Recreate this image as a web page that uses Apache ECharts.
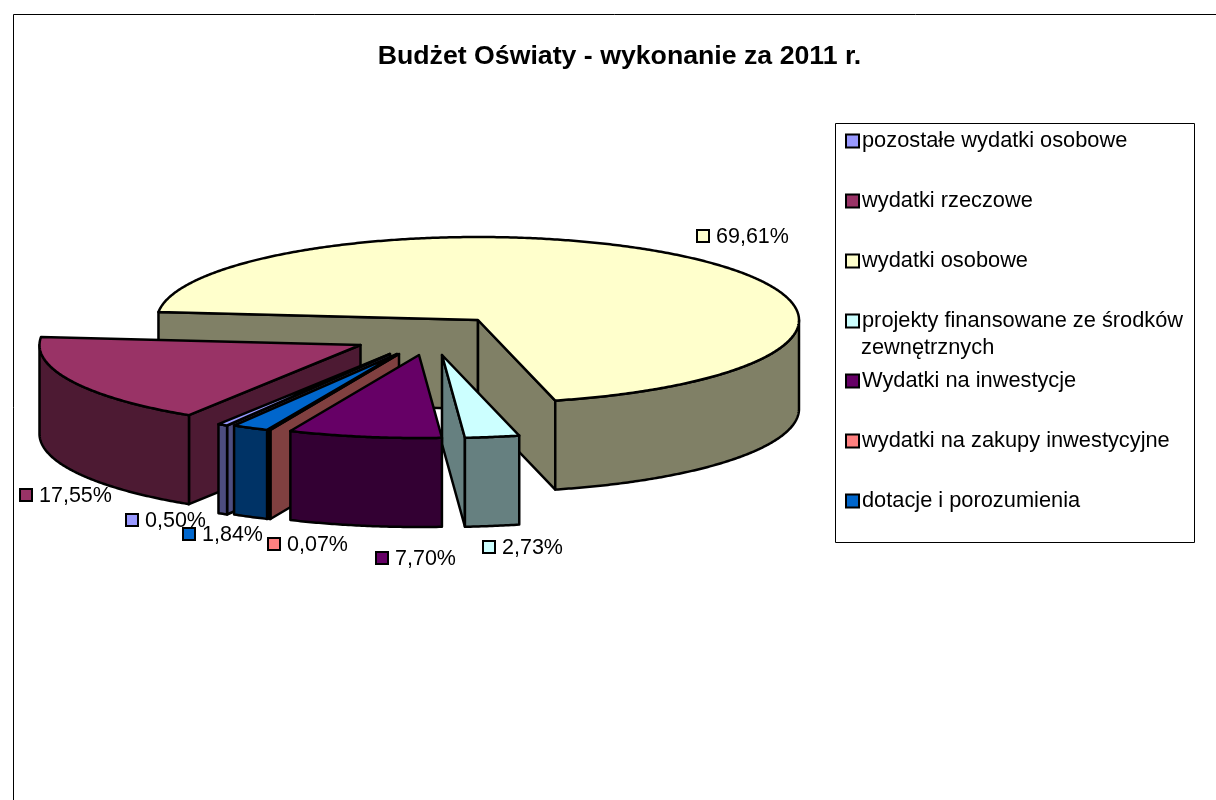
<!DOCTYPE html>
<html>
<head>
    <meta charset="utf-8" />
    <style>
        html, body { margin: 0; padding: 0; background: #fff; }
        #chart { width: 1216px; height: 800px; }
    </style>
    <script src="https://cdn.jsdelivr.net/npm/echarts@6/dist/echarts.min.js"></script>
</head>
<body>
    <div id="chart"></div>
    <script type="text/javascript">
        // dane
        var categories = [
            'pozostałe wydatki osobowe',
            'wydatki rzeczowe',
            'wydatki osobowe',
            'projekty finansowane ze środków\nzewnętrznych',
            'Wydatki na inwestycje',
            'wydatki na zakupy inwestycyjne',
            'dotacje i porozumienia'
        ];
        var shares = [0.50, 17.55, 69.61, 2.73, 7.70, 0.07, 1.84];

        // kolory: wierzch i bok kazdego wycinka
        var topColors = ['#9999FF', '#993366', '#FFFFCC', '#CCFFFF', '#660066', '#FF8080', '#0066CC'];
        var sideColors = ['#4D4D80', '#4D1A33', '#808066', '#668080', '#330033', '#804040', '#003366'];

        // geometria kola 3D
        var centerX = 478, centerY = 320;
        var radiusX = 321, radiusY = 83, depth = 89;
        var firstAngle = 120.5;
        var explode = [[-88, 34], [-117.5, 25], [0, 0], [-36, 35], [-59, 35], [-79, 34], [-81, 34]];
        var drawOrder = [2, 3, 1, 0, 6, 5, 4];

        // polozenie etykiet: lewy gorny rog kwadracika
        var labelPos = [[125, 513], [19, 488], [696, 229], [482, 540], [375, 551], [267, 537], [182, 527]];

        var fontName = '"Liberation Sans", Arial, sans-serif';

        function sliceStart(idx) {
            var sum = 0;
            for (var i = 0; i < idx; i++) {
                sum += shares[i];
            }
            return firstAngle + sum * 3.6;
        }

        function rimPoint(cx, cy, deg, drop) {
            var a = deg * Math.PI / 180;
            return [cx + radiusX * Math.cos(a), cy + radiusY * Math.sin(a) + drop];
        }

        function arcPoints(cx, cy, from, to, drop) {
            var pts = [];
            var steps = Math.max(1, Math.ceil((to - from) * 2));
            for (var i = 0; i <= steps; i++) {
                pts.push(rimPoint(cx, cy, from + (to - from) * i / steps, drop));
            }
            return pts;
        }

        function face(points, color) {
            return {
                type: 'polygon',
                shape: { points: points },
                style: { fill: color, stroke: '#000', lineWidth: 2.5, lineJoin: 'round' }
            };
        }

        function radialFace(cx, cy, deg, color) {
            return face([
                [cx, cy],
                rimPoint(cx, cy, deg, 0),
                rimPoint(cx, cy, deg, depth),
                [cx, cy + depth]
            ], color);
        }

        // czesc boku lezaca z przodu (sinus dodatni)
        function frontFaces(cx, cy, from, to, color) {
            var out = [];
            for (var k = 0; k <= 2; k += 2) {
                var lo = Math.max(from, k * 180);
                var hi = Math.min(to, k * 180 + 180);
                if (hi > lo) {
                    var upper = arcPoints(cx, cy, lo, hi, 0);
                    var lower = arcPoints(cx, cy, lo, hi, depth).reverse();
                    out.push(face(upper.concat(lower), color));
                }
            }
            return out;
        }

        function renderSlice(idx, params, api) {
            var value = api.value(0);
            var from = sliceStart(idx);
            var to = from + value * 3.6;
            var cx = centerX + explode[idx][0];
            var cy = centerY + explode[idx][1];

            // tylko sciany zwrocone do widza
            var children = [];
            if (Math.cos(from * Math.PI / 180) < 0) {
                children.push(radialFace(cx, cy, from, sideColors[idx]));
            }
            if (Math.cos(to * Math.PI / 180) > 0) {
                children.push(radialFace(cx, cy, to, sideColors[idx]));
            }
            children = children.concat(frontFaces(cx, cy, from, to, sideColors[idx]));
            children.push(face([[cx, cy]].concat(arcPoints(cx, cy, from, to, 0)), topColors[idx]));

            // etykieta z kwadracikiem
            var lx = labelPos[idx][0], ly = labelPos[idx][1];
            children.push({
                type: 'rect',
                z2: 10,
                shape: { x: lx + 1, y: ly + 1, width: 12, height: 12 },
                style: { fill: topColors[idx], stroke: '#000', lineWidth: 2 }
            });
            children.push({
                type: 'text',
                z2: 9,
                x: lx + 20,
                y: ly + 8,
                style: {
                    text: value.toFixed(2).replace('.', ',') + '%',
                    fill: '#000',
                    font: '21.5px ' + fontName,
                    textVerticalAlign: 'middle'
                }
            });
            return { type: 'group', children: children };
        }

        var series = drawOrder.map(function (idx) {
            return {
                type: 'custom',
                name: categories[idx],
                coordinateSystem: 'none',
                silent: true,
                itemStyle: { color: topColors[idx] },
                data: [[shares[idx]]],
                renderItem: function (params, api) {
                    return renderSlice(idx, params, api);
                }
            };
        });

        var option = {
            animation: false,
            backgroundColor: '#fff',
            title: {
                text: 'Budżet Oświaty - wykonanie za 2011 r.',
                left: 614.5,
                top: 38,
                textAlign: 'center',
                textStyle: { fontFamily: fontName, fontWeight: 'bold', fontSize: 26.7, color: '#000' }
            },
            legend: {
                orient: 'vertical',
                left: 845,
                top: 126,
                itemWidth: 13,
                itemHeight: 13,
                itemGap: 30,
                selectedMode: false,
                icon: 'rect',
                padding: 0,
                data: categories.map(function (name, i) {
                    return {
                        name: name,
                        itemStyle: { color: topColors[i], borderColor: '#000', borderWidth: 2 }
                    };
                }),
                formatter: function (name) {
                    return name.split('\n')[0];
                },
                textStyle: {
                    fontFamily: fontName,
                    fontSize: 21.8,
                    color: '#000',
                    lineHeight: 26,
                    padding: [4, 0, 0, -2]
                }
            },
            graphic: [
                {
                    type: 'polyline',
                    shape: { points: [[13.5, 800], [13.5, 14.5], [1216, 14.5]] },
                    style: { fill: null, stroke: '#000', lineWidth: 1 }
                },
                {
                    type: 'rect',
                    shape: { x: 835.5, y: 123.5, width: 359, height: 419 },
                    style: { fill: null, stroke: '#000', lineWidth: 1 }
                },
                {
                    type: 'text',
                    x: 861,
                    y: 348,
                    style: {
                        text: categories[3].split('\n')[1],
                        fill: '#000',
                        font: '21.8px ' + fontName,
                        textVerticalAlign: 'middle'
                    }
                }
            ],
            series: series
        };

        var myChart = echarts.init(document.getElementById('chart'));
        myChart.setOption(option);
    </script>
</body>
</html>
